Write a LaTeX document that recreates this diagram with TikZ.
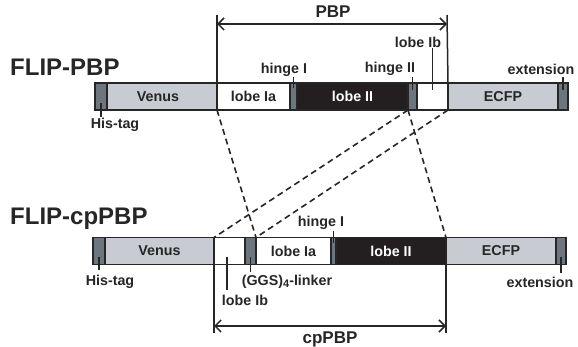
\documentclass[tikz,border=0pt]{standalone}
\usepackage{fontspec}
\setmainfont{Liberation Sans}
\usetikzlibrary{arrows.meta}
\definecolor{lgray}{HTML}{C8CBD2}
\definecolor{dgray}{HTML}{6D767C}
\definecolor{nblack}{HTML}{231F20}
\definecolor{edge}{HTML}{262626}
\begin{document}
\begin{tikzpicture}[x=1pt,y=-1pt,
  seg/.style={draw=edge, line width=1.5pt, minimum height=27pt, inner sep=0pt, outer sep=0pt,
    font=\bfseries\fontsize{14.3}{14.3}\selectfont, text=edge},
  light/.style={seg, fill=lgray},
  dark/.style={seg, fill=dgray},
  wseg/.style={seg, fill=white},
  blk/.style={seg, fill=nblack, text=white},
  lbl/.style={font=\bfseries\fontsize{14.3}{14.3}\selectfont, inner sep=0pt, text=edge},
  dimlbl/.style={font=\bfseries\fontsize{17}{17}\selectfont, inner sep=0pt, text=edge},
  title/.style={font=\bfseries\fontsize{24}{24}\selectfont, inner sep=0pt, anchor=west, text=edge},
  tick/.style={line width=1.5pt, draw=edge},
  dsh/.style={line width=1.6pt, dash pattern=on 6pt off 4pt, draw=edge},
  dim/.style={line width=1.5pt, draw=edge},
  dimarrow/.style={dim, {Straight Barb[length=6pt,width=12pt]}-{Straight Barb[length=6pt,width=12pt]}},
]
\useasboundingbox (0,0) rectangle (578,347);

% top construct
\node[dark, minimum width=12pt] (tHis) at (101,96.5) {};
\node[light, minimum width=110pt] (tVenus) at (162,96.5) {\hspace*{-8pt}Venus};
\node[wseg, minimum width=73pt] (tLobeIa) at (253.5,96.5) {lobe Ia};
\node[dark, minimum width=7pt] (tHingeI) at (293.5,96.5) {};
\node[blk, minimum width=111pt] (tLobeII) at (352.5,96.5) {lobe II};
\node[dark, minimum width=9pt] (tHingeII) at (412.5,96.5) {};
\node[wseg, minimum width=31pt] (tLobeIb) at (432.5,96.5) {};
\node[light, minimum width=110pt] (tECFP) at (503,96.5) {ECFP};
\node[dark, minimum width=10pt] (tExt) at (563,96.5) {};

% bottom construct
\node[dark, minimum width=12pt] (bHis) at (99,251) {};
\node[light, minimum width=109pt] (bVenus) at (159.5,251) {Venus};
\node[wseg, minimum width=31pt] (bLobeIb) at (229.5,251) {};
\node[dark, minimum width=11pt] (bLinker) at (250.5,251) {};
\node[wseg, minimum width=75pt] (bLobeIa) at (293.5,251) {lobe Ia};
\node[dark, minimum width=5pt] (bHingeI) at (333.5,251) {};
\node[blk, minimum width=110pt] (bLobeII) at (391,251) {lobe II};
\node[light, minimum width=110pt] (bECFP) at (501,251) {ECFP};
\node[dark, minimum width=10pt] (bExt) at (561,251) {};

% titles and labels
\node[title] (tTitle) at (10,67) {FLIP-PBP};
\node[title] (bTitle) at (10,219) {FLIP-cpPBP};
\node[lbl] (lHingeI) at (284,70) {hinge I};
\node[lbl] (lHingeII) at (390,69) {hinge II};
\node[lbl] (lLobeIb) at (418,42) {lobe Ib};
\node[lbl] (lExt) at (541,69) {extension};
\node[lbl] (lHis) at (115,125) {His-tag};
\node[dimlbl] (lPBP) at (333,12) {PBP};

\node[lbl] (lbHingeI) at (321,223) {hinge I};
\node[lbl] (lbHis) at (110,282) {His-tag};
\node[lbl] (lbLobeIb) at (245,300) {lobe Ib};
\node[lbl] (lbLinker) at (287,282) {(GGS)\raisebox{-0.3ex}{\fontsize{11}{11}\selectfont 4}-linker};
\node[lbl] (lbExt) at (540,282) {extension};
\node[dimlbl] (lcpPBP) at (330,339) {cpPBP};

% ticks top
\draw[tick] ([yshift=6pt]tHingeI.north) -- ([yshift=-5pt]tHingeI.north);
\draw[tick] ([yshift=6pt]tHingeII.north) -- ([yshift=-7pt]tHingeII.north);
\draw[tick] ([yshift=35pt]tLobeIb.north) -- ([yshift=-7pt]tLobeIb.north);
\draw[tick] ([yshift=6pt]tExt.north) -- ([yshift=-7pt]tExt.north);
\draw[tick] ([yshift=7pt]tHis.south) -- ([yshift=-7pt]tHis.south);
% ticks bottom
\draw[tick] ([yshift=7pt]bHis.south) -- ([yshift=-6pt]bHis.south);
\draw[tick] ([xshift=-2.5pt,yshift=7pt]bLobeIb.south) -- ([xshift=-2.5pt,yshift=-25.5pt]bLobeIb.south);
\draw[tick] ([yshift=7pt]bLinker.south) -- ([yshift=-8pt]bLinker.south);
\draw[tick] ([yshift=6.5pt]bHingeI.north) -- ([yshift=-6pt]bHingeI.north);
\draw[tick] ([yshift=7pt]bExt.south) -- ([yshift=-8.5pt]bExt.south);

% PBP dimension
\coordinate (pL) at (217,15);
\coordinate (pR) at (447,15);
\coordinate (pAL) at (217,24);
\coordinate (pAR) at (447,24);
\draw[dim] (tLobeIa.north west) -- (pL);
\draw[dim] (tLobeIb.north east) -- (pR);
\draw[dimarrow] (pAL) -- (pAR);

% cpPBP dimension
\coordinate (cL) at (214,333);
\coordinate (cR) at (446,333);
\coordinate (cAL) at (214,326);
\coordinate (cAR) at (446,326);
\draw[dim] (bLobeIb.south west) -- (cL);
\draw[dim] (bLobeII.south east) -- (cR);
\draw[dimarrow] (cAL) -- (cAR);

% dashed correspondences
\draw[dsh] (tLobeIa.south west) -- (bLobeIa.north west);
\draw[dsh] (tHingeII.south west) -- (bLobeIb.north west);
\draw[dsh] (tLobeIb.south east) -- (bLinker.north east);
\draw[dsh] (tHingeII.south west) -- (bLobeII.north east);
\end{tikzpicture}
\end{document}
